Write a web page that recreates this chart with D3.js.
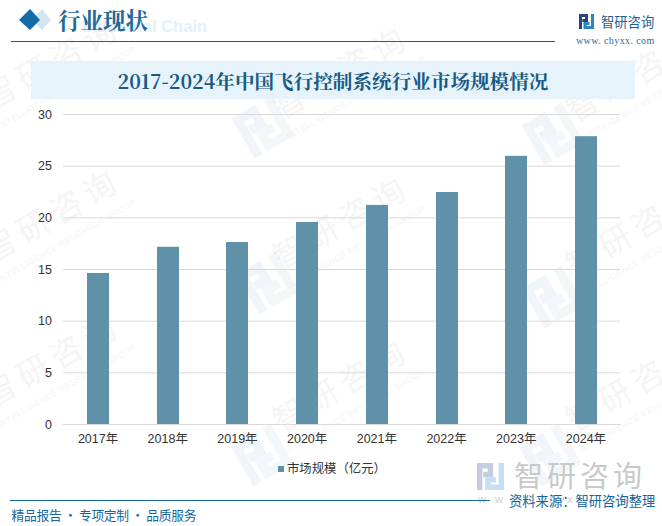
<!DOCTYPE html>
<html>
<head>
<meta charset="utf-8">
<title>2017-2024年中国飞行控制系统行业市场规模情况</title>
<script src="https://cdn.jsdelivr.net/npm/d3@7/dist/d3.min.js"></script>
<style>
  html, body { margin: 0; padding: 0; background: #fff; }
  svg { display: block; }
</style>
</head>
<body>
<svg id="chart" width="662" height="526"></svg>
<script>
var years = ["2017年", "2018年", "2019年", "2020年", "2021年", "2022年", "2023年", "2024年"];
var marketSize = [14.66, 17.2, 17.66, 19.6, 21.25, 22.5, 26, 27.9];
var yTicks = [0, 5, 10, 15, 20, 25, 30];
var seriesName = "市场规模（亿元）";
var footerLeft = "精品报告 · 专项定制 · 品质服务";
var footerRight = "资料来源：智研咨询整理";
var watermarkSpots = [[58, 72], [347, 82], [640, 85], [58, 225], [347, 232], [640, 240], [58, 370], [347, 395], [640, 395]];
var logoSpots = [[263, 127], [553, 134], [268, 283], [553, 297], [262, 455], [550, 455]];

var svg = d3.select("#chart");
var serif = "'Noto Serif CJK SC', 'Liberation Serif', 'Noto Sans CJK SC', serif";
var sans = "'Noto Sans CJK SC', 'Liberation Sans', sans-serif";
var latin = "'Liberation Sans', 'Noto Sans CJK SC', sans-serif";

//faint watermarks behind everything
var wm = svg.append("g");
watermarkSpots.forEach(function (d) {
  var g = wm.append("g").attr("transform", "translate(" + d[0] + "," + d[1] + ") rotate(-30)");
  g.append("text").attr("text-anchor", "middle").attr("font-family", sans).attr("font-size", 32)
    .attr("letter-spacing", 6).attr("fill", "#f5f5f5").text("智研咨询");
  g.append("text").attr("text-anchor", "middle").attr("y", 21).attr("font-family", "'Liberation Sans'")
    .attr("font-size", 8.5).attr("letter-spacing", 0.5).attr("fill", "#f5f5f5").text("INTELLIGENCE RESEARCH GROUP");
});

//small logo, also used for the watermark copies
function logo(sel, size, c1, c2) {
  var u = size / 4;
  sel.append("path").attr("fill", "none").attr("stroke", c1).attr("stroke-width", u * 0.8)
    .attr("d", "M" + u * 0.4 + "," + size + "V" + u * 0.4 + "H" + u * 2 + "V" + u * 1.7 + "H" + u * 0.9);
  sel.append("path").attr("fill", "none").attr("stroke", c2).attr("stroke-width", u * 0.8)
    .attr("d", "M" + u * 3.6 + "," + 0 + "V" + u * 3.6 + "H" + u * 1.6 + "V" + u * 2.5 + "H" + u * 2.8);
}
logoSpots.forEach(function (d) {
  logo(svg.append("g").attr("opacity", 0.1)
    .attr("transform", "translate(" + (d[0] - 23) + "," + (d[1] - 23) + ") rotate(-30 23 23)"), 46, "#7f97bd", "#8fb8d8");
});

//header
svg.append("path").attr("fill", "#d5e5ef").attr("d", "M42,9L51,20L42,30L32,20Z");
svg.append("path").attr("fill", "#126ca8").attr("d", "M30,9L40,20L30,30L19,20Z");
svg.append("text").attr("x", 207).attr("y", 32).attr("text-anchor", "end")
  .attr("font-family", "'Liberation Sans'").attr("font-weight", "bold").attr("font-size", 16.5)
  .attr("fill", "#e3f1fb").text("Industrial Chain");
svg.append("text").attr("x", 58).attr("y", 29).attr("font-family", serif).attr("font-weight", "bold")
  .attr("font-size", 22.5).attr("fill", "#1f6a96").text("行业现状");
svg.append("line").attr("x1", 11).attr("x2", 555).attr("y1", 41.5).attr("y2", 41.5)
  .attr("stroke", "#1c5d85").attr("stroke-width", 1);

logo(svg.append("g").attr("transform", "translate(579,14)"), 15, "#27467f", "#2a86c6");
svg.append("text").attr("x", 601).attr("y", 27).attr("font-family", sans).attr("font-size", 13.3)
  .attr("fill", "#1f5f8f").text("智研咨询");
svg.append("text").attr("x", 576).attr("y", 44).attr("font-family", "'Liberation Serif'").attr("font-size", 10)
  .attr("letter-spacing", 0.4).attr("fill", "#2f6a97").text("www. chyxx. com");

//title band
svg.append("rect").attr("x", 31).attr("y", 61).attr("width", 604).attr("height", 38).attr("fill", "#e6f3fb");
svg.append("text").attr("x", 333).attr("y", 89).attr("text-anchor", "middle").attr("font-family", serif)
  .attr("font-weight", "bold").attr("font-size", 19.6).attr("fill", "#175a84")
  .text("2017-2024年中国飞行控制系统行业市场规模情况");

//plot
var x = d3.scaleBand().domain(years).range([63.2, 620.8]).paddingInner(0.684).paddingOuter(0.342);
var y = d3.scaleLinear().domain([0, 30]).range([424.5, 114.5]);

var yAxis = svg.append("g").attr("transform", "translate(63,0)")
  .call(d3.axisLeft(y).tickValues(yTicks).tickSize(-557).tickPadding(11).offset(0));
yAxis.select(".domain").remove();
yAxis.selectAll("line").attr("stroke", "#d9d9d9");
yAxis.selectAll("text").attr("font-family", latin).attr("font-size", 12.5).attr("fill", "#333");

svg.append("g").selectAll("rect").data(marketSize).enter().append("rect")
  .attr("x", function (d, i) { return Math.round(x(years[i])); })
  .attr("y", function (d) { return y(d); })
  .attr("width", Math.round(x.bandwidth()))
  .attr("height", function (d) { return y(0) - y(d); })
  .attr("fill", "#5f91a9");

var xAxis = svg.append("g").attr("transform", "translate(0,424.5)")
  .call(d3.axisBottom(x).tickSize(0).tickPadding(10).offset(0));
xAxis.select(".domain").attr("stroke", "#d9d9d9");
xAxis.selectAll("text").attr("font-family", latin).attr("font-size", 12.5).attr("fill", "#333");

//legend
svg.append("rect").attr("x", 278).attr("y", 466).attr("width", 6).attr("height", 6).attr("fill", "#5f91a9");
svg.append("text").attr("x", 287).attr("y", 473).attr("font-family", sans).attr("font-size", 12.4)
  .attr("fill", "#333").attr("textLength", 99).attr("lengthAdjust", "spacing").text(seriesName);

//footer
logo(svg.append("g").attr("opacity", 0.5).attr("transform", "translate(477,463)"), 27, "#8d9fc4", "#8fc0e4");
svg.append("text").attr("x", 514).attr("y", 487).attr("font-family", sans).attr("font-size", 29)
  .attr("letter-spacing", 4).attr("fill", "#c9c9c9").text("智研咨询");
svg.append("text").attr("x", 478).attr("y", 503).attr("font-family", "'Liberation Sans'").attr("font-size", 11)
  .attr("letter-spacing", 3).attr("fill", "#cfcfcf").text("w w w . chyxx . com");
svg.append("line").attr("x1", 10).attr("x2", 490).attr("y1", 500.5).attr("y2", 500.5)
  .attr("stroke", "#1367a0").attr("stroke-width", 1);
svg.append("text").attr("x", 11.5).attr("y", 520).attr("font-family", sans).attr("font-size", 12.75)
  .attr("fill", "#1367a0").attr("textLength", 185).attr("lengthAdjust", "spacing").text(footerLeft);
svg.append("text").attr("x", 509).attr("y", 506).attr("font-family", sans).attr("font-size", 13.3)
  .attr("fill", "#1367a0").text(footerRight);
</script>
</body>
</html>
